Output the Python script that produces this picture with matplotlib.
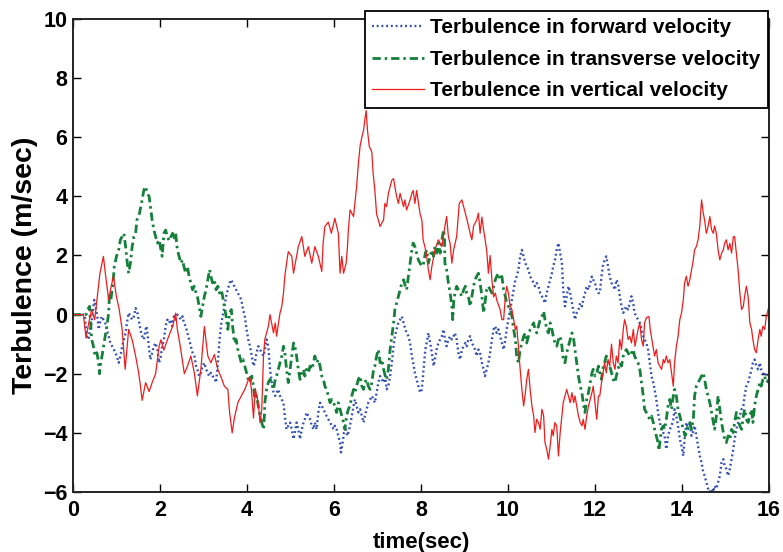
import matplotlib
matplotlib.use("Agg")
import matplotlib.pyplot as plt

# time stamps and turbulence samples for the three velocity components
t_forward = [0, 0.27, 0.28, 0.32, 0.36, 0.39, 0.43, 0.47, 0.49, 0.53, 0.56, 0.59, 0.62, 0.66, 0.70, 0.74, 0.78, 0.82, 0.86, 0.90, 0.94, 0.97, 1.01, 1.05, 1.09, 1.13, 1.17, 1.21, 1.24, 1.28, 1.32, 1.36, 1.40, 1.44, 1.48, 1.51, 1.55, 1.59, 1.63, 1.67, 1.69, 1.72, 1.75, 1.78, 1.82, 1.86, 1.90, 1.94, 1.98, 2.02, 2.05, 2.09, 2.13, 2.17, 2.21, 2.25, 2.28, 2.32, 2.36, 2.40, 2.44, 2.48, 2.52, 2.55, 2.59, 2.63, 2.67, 2.71, 2.75, 2.79, 2.83, 2.86, 2.90, 2.94, 2.98, 3.02, 3.06, 3.10, 3.13, 3.17, 3.21, 3.25, 3.29, 3.33, 3.37, 3.41, 3.44, 3.48, 3.52, 3.56, 3.60, 3.64, 3.67, 3.71, 3.75, 3.79, 3.83, 3.87, 3.91, 3.95, 3.99, 4.03, 4.07, 4.11, 4.15, 4.18, 4.22, 4.26, 4.30, 4.34, 4.38, 4.41, 4.45, 4.49, 4.53, 4.57, 4.61, 4.65, 4.68, 4.72, 4.76, 4.80, 4.84, 4.87, 4.91, 4.95, 4.99, 5.03, 5.07, 5.10, 5.14, 5.18, 5.22, 5.26, 5.30, 5.33, 5.37, 5.41, 5.45, 5.49, 5.53, 5.56, 5.60, 5.64, 5.68, 5.72, 5.76, 5.79, 5.83, 5.87, 5.91, 5.95, 5.99, 6.02, 6.06, 6.10, 6.14, 6.16, 6.20, 6.23, 6.27, 6.31, 6.35, 6.38, 6.41, 6.45, 6.48, 6.52, 6.56, 6.60, 6.64, 6.68, 6.71, 6.75, 6.79, 6.83, 6.87, 6.91, 6.94, 6.98, 7.02, 7.06, 7.10, 7.14, 7.18, 7.21, 7.25, 7.29, 7.33, 7.37, 7.40, 7.44, 7.48, 7.52, 7.56, 7.60, 7.64, 7.67, 7.71, 7.75, 7.79, 7.82, 7.86, 7.90, 7.94, 7.98, 8.02, 8.06, 8.10, 8.13, 8.17, 8.21, 8.25, 8.29, 8.32, 8.36, 8.40, 8.44, 8.48, 8.52, 8.55, 8.59, 8.63, 8.67, 8.71, 8.75, 8.78, 8.82, 8.86, 8.90, 8.94, 8.98, 9.02, 9.05, 9.09, 9.13, 9.17, 9.21, 9.24, 9.28, 9.32, 9.36, 9.40, 9.44, 9.47, 9.51, 9.55, 9.59, 9.63, 9.67, 9.71, 9.74, 9.78, 9.82, 9.86, 9.90, 9.94, 9.97, 10.01, 10.05, 10.09, 10.13, 10.17, 10.20, 10.24, 10.28, 10.32, 10.36, 10.40, 10.43, 10.47, 10.51, 10.55, 10.59, 10.62, 10.66, 10.70, 10.74, 10.78, 10.82, 10.85, 10.89, 10.93, 10.97, 11.01, 11.04, 11.08, 11.12, 11.16, 11.20, 11.24, 11.27, 11.31, 11.35, 11.39, 11.43, 11.47, 11.51, 11.54, 11.58, 11.62, 11.66, 11.70, 11.73, 11.77, 11.81, 11.85, 11.89, 11.93, 11.96, 12.00, 12.04, 12.08, 12.11, 12.15, 12.18, 12.22, 12.26, 12.30, 12.34, 12.38, 12.42, 12.46, 12.49, 12.53, 12.57, 12.61, 12.65, 12.68, 12.72, 12.76, 12.80, 12.84, 12.88, 12.91, 12.95, 12.99, 13.03, 13.07, 13.11, 13.14, 13.18, 13.22, 13.26, 13.30, 13.34, 13.37, 13.41, 13.45, 13.49, 13.53, 13.57, 13.60, 13.64, 13.68, 13.72, 13.76, 13.80, 13.83, 13.87, 13.91, 13.95, 13.99, 14.03, 14.06, 14.10, 14.14, 14.18, 14.22, 14.25, 14.29, 14.33, 14.37, 14.41, 14.45, 14.49, 14.52, 14.56, 14.60, 14.64, 14.68, 14.72, 14.75, 14.79, 14.83, 14.87, 14.91, 14.95, 14.98, 15.02, 15.06, 15.10, 15.14, 15.18, 15.21, 15.25, 15.29, 15.33, 15.37, 15.41, 15.44, 15.48, 15.52, 15.56, 15.60, 15.63, 15.67, 15.71, 15.75, 15.79, 15.82, 15.86, 15.90, 15.94, 16.0]
u_forward = [0, 0, -0.17, -0.73, -0.84, -0.5, -0.28, 0.28, 0.5, 0.17, -0.06, -0.5, -0.28, -0.06, -0.17, -0.28, -0.5, -0.73, -0.96, -1.07, -1.18, -1.29, -1.4, -1.63, -1.4, -1.07, -0.84, -0.62, -0.28, 0.06, -0.06, -0.17, -0.06, 0.22, 0.06, -0.17, -0.5, -0.73, -0.84, -0.5, -0.39, -0.73, -1.18, -1.52, -1.29, -1.07, -0.96, -1.18, -1.63, -1.4, -1.07, -0.84, -0.39, -0.17, -0.28, -0.17, -0.39, -0.06, -0.17, 0.0, -0.06, -0.17, -0.06, -0.28, -0.39, -0.62, -0.84, -1.07, -1.29, -1.4, -1.74, -1.85, -2.08, -1.97, -1.74, -1.63, -1.85, -1.97, -2.08, -1.97, -2.08, -2.13, -2.3, -1.63, -0.84, -0.28, -0.06, 0.28, 0.62, 0.84, 1.07, 1.18, 1.07, 0.96, 0.84, 0.73, 0.62, 0.5, 0.17, -0.06, -0.5, -0.84, -1.07, -1.4, -1.74, -1.63, -1.29, -1.07, -1.18, -1.29, -1.4, -1.18, -0.84, -1.07, -1.85, -2.3, -2.64, -2.75, -2.64, -2.53, -2.75, -2.87, -2.98, -3.43, -3.88, -3.76, -3.65, -3.88, -4.21, -3.99, -3.65, -3.88, -4.21, -3.88, -3.65, -3.54, -3.31, -3.43, -3.54, -3.76, -3.88, -3.65, -3.88, -3.31, -2.98, -3.09, -3.2, -3.31, -3.43, -3.54, -3.65, -3.76, -3.88, -3.76, -3.88, -4.1, -4.33, -4.66, -4.33, -3.99, -3.88, -4.1, -3.88, -3.65, -3.43, -3.09, -2.87, -3.09, -3.31, -3.2, -3.43, -3.65, -3.43, -3.2, -2.98, -2.87, -2.75, -2.87, -2.98, -2.64, -2.3, -2.08, -2.19, -2.3, -2.08, -2.53, -2.42, -2.08, -1.63, -1.07, -0.73, -0.5, -0.28, -0.17, -0.06, -0.28, -0.5, -0.62, -0.73, -0.96, -1.4, -1.63, -1.97, -2.19, -2.42, -2.64, -2.53, -1.85, -1.18, -0.96, -0.62, -0.96, -1.29, -1.74, -1.52, -1.18, -0.96, -0.84, -0.73, -0.5, -0.84, -1.07, -0.84, -0.73, -0.84, -0.73, -0.62, -0.84, -1.29, -1.52, -1.18, -1.07, -0.96, -1.07, -0.84, -0.73, -0.96, -1.07, -1.18, -1.4, -1.18, -1.29, -1.63, -1.85, -2.08, -1.85, -1.63, -1.29, -0.84, -0.5, -0.39, -0.62, -0.5, -0.73, -0.96, -1.18, -0.84, -0.5, -0.17, 0.17, 0.5, 0.84, 1.18, 1.29, 1.52, 1.97, 2.19, 1.97, 1.74, 1.63, 1.52, 1.29, 1.18, 1.07, 0.96, 1.07, 0.96, 0.73, 0.62, 0.5, 0.39, 0.73, 0.96, 1.18, 1.4, 1.63, 1.85, 2.19, 2.42, 2.08, 1.74, 0.84, 0.28, 0.62, 0.96, 0.73, 0.39, 0.06, -0.17, 0.06, 0.17, 0.39, 0.28, 0.5, 0.73, 0.96, 0.84, 1.07, 1.29, 1.18, 1.07, 0.84, 0.73, 0.73, 1.29, 1.63, 1.85, 1.97, 1.63, 1.29, 1.07, 0.96, 0.84, 1.18, 1.07, 0.62, 0.28, 0.06, 0.17, 0.28, 0.17, 0.39, 0.62, 0.39, 0.06, -0.06, -0.17, -0.28, -0.5, -0.73, -0.84, -0.96, -1.18, -1.63, -2.08, -2.3, -2.53, -2.87, -3.31, -3.65, -3.88, -4.0, -4.1, -4.55, -4.1, -3.88, -3.76, -3.54, -3.2, -3.43, -3.76, -4.21, -4.44, -4.78, -4.21, -3.65, -3.88, -3.65, -4.1, -3.99, -3.76, -4.1, -4.44, -4.78, -5.0, -5.34, -5.45, -5.67, -5.89, -6.0, -5.89, -6.0, -5.79, -5.89, -5.67, -5.45, -5.0, -4.89, -5.11, -5.22, -5.45, -5.22, -4.89, -4.55, -4.21, -3.88, -3.65, -3.43, -3.2, -3.09, -2.75, -2.42, -2.3, -2.08, -1.85, -1.63, -1.52, -1.74, -1.85, -1.63, -1.85, -1.97, -2.08, -1.97, -2.08]

t_transverse = [0, 0.27, 0.30, 0.34, 0.38, 0.41, 0.43, 0.47, 0.51, 0.55, 0.59, 0.61, 0.64, 0.68, 0.74, 0.78, 0.82, 0.84, 0.87, 0.92, 0.95, 1.00, 1.05, 1.09, 1.13, 1.17, 1.21, 1.24, 1.28, 1.32, 1.36, 1.40, 1.44, 1.47, 1.53, 1.59, 1.63, 1.67, 1.71, 1.75, 1.78, 1.82, 1.86, 1.90, 1.94, 1.98, 2.02, 2.05, 2.09, 2.13, 2.17, 2.21, 2.25, 2.29, 2.32, 2.36, 2.40, 2.44, 2.48, 2.52, 2.55, 2.59, 2.63, 2.67, 2.71, 2.75, 2.79, 2.83, 2.86, 2.90, 2.94, 2.98, 3.02, 3.06, 3.10, 3.14, 3.17, 3.21, 3.25, 3.29, 3.33, 3.37, 3.41, 3.44, 3.48, 3.52, 3.56, 3.60, 3.64, 3.67, 3.71, 3.75, 3.79, 3.83, 3.87, 3.91, 3.95, 3.99, 4.03, 4.07, 4.11, 4.15, 4.18, 4.22, 4.26, 4.30, 4.34, 4.38, 4.40, 4.41, 4.45, 4.49, 4.53, 4.57, 4.61, 4.65, 4.68, 4.72, 4.76, 4.80, 4.84, 4.87, 4.91, 4.95, 4.99, 5.03, 5.07, 5.10, 5.14, 5.18, 5.22, 5.26, 5.30, 5.33, 5.37, 5.41, 5.45, 5.49, 5.53, 5.56, 5.60, 5.64, 5.68, 5.72, 5.76, 5.79, 5.83, 5.87, 5.91, 5.95, 5.99, 6.02, 6.06, 6.10, 6.14, 6.18, 6.22, 6.25, 6.29, 6.33, 6.37, 6.41, 6.45, 6.48, 6.52, 6.56, 6.60, 6.64, 6.68, 6.71, 6.75, 6.79, 6.83, 6.87, 6.91, 6.94, 6.98, 7.02, 7.06, 7.10, 7.14, 7.18, 7.21, 7.25, 7.29, 7.33, 7.37, 7.40, 7.44, 7.48, 7.52, 7.56, 7.60, 7.64, 7.67, 7.71, 7.75, 7.79, 7.82, 7.86, 7.90, 7.94, 7.98, 8.02, 8.06, 8.10, 8.13, 8.17, 8.21, 8.25, 8.29, 8.32, 8.36, 8.40, 8.44, 8.48, 8.52, 8.54, 8.55, 8.59, 8.63, 8.67, 8.71, 8.73, 8.75, 8.78, 8.82, 8.86, 8.90, 8.94, 8.98, 9.02, 9.05, 9.09, 9.13, 9.17, 9.21, 9.24, 9.28, 9.32, 9.36, 9.40, 9.44, 9.47, 9.51, 9.55, 9.59, 9.63, 9.67, 9.71, 9.74, 9.78, 9.82, 9.86, 9.90, 9.94, 9.97, 10.01, 10.05, 10.09, 10.13, 10.17, 10.20, 10.24, 10.28, 10.32, 10.36, 10.40, 10.43, 10.47, 10.51, 10.55, 10.59, 10.62, 10.66, 10.70, 10.74, 10.78, 10.82, 10.85, 10.89, 10.93, 10.97, 11.01, 11.04, 11.08, 11.12, 11.16, 11.20, 11.24, 11.27, 11.31, 11.35, 11.39, 11.43, 11.47, 11.51, 11.54, 11.58, 11.62, 11.66, 11.70, 11.73, 11.77, 11.81, 11.85, 11.89, 11.93, 11.96, 12.00, 12.04, 12.08, 12.11, 12.15, 12.18, 12.22, 12.26, 12.30, 12.34, 12.38, 12.42, 12.46, 12.49, 12.53, 12.57, 12.61, 12.65, 12.68, 12.72, 12.76, 12.80, 12.84, 12.88, 12.91, 12.95, 12.99, 13.03, 13.07, 13.11, 13.14, 13.18, 13.22, 13.26, 13.30, 13.34, 13.37, 13.41, 13.45, 13.47, 13.49, 13.53, 13.57, 13.60, 13.64, 13.68, 13.72, 13.76, 13.80, 13.83, 13.87, 13.91, 13.95, 13.99, 14.03, 14.07, 14.10, 14.14, 14.18, 14.22, 14.26, 14.29, 14.33, 14.37, 14.41, 14.45, 14.49, 14.52, 14.56, 14.60, 14.64, 14.68, 14.72, 14.75, 14.79, 14.83, 14.87, 14.91, 14.95, 14.98, 15.02, 15.06, 15.10, 15.14, 15.18, 15.21, 15.25, 15.29, 15.33, 15.37, 15.41, 15.44, 15.48, 15.52, 15.56, 15.60, 15.63, 15.67, 15.71, 15.75, 15.79, 15.82, 15.86, 15.90, 15.94, 16.0]
u_transverse = [0, 0, 0.0, 0.17, 0.28, -0.4, -0.84, -1.07, -1.4, -1.29, -1.63, -2.0, -1.63, -1.29, -0.73, -0.4, 0.06, 0.73, 0.5, 1.07, 1.63, 1.97, 2.19, 2.53, 2.64, 2.75, 2.3, 1.85, 1.4, 1.74, 2.3, 2.64, 2.75, 3.2, 3.43, 3.88, 4.22, 4.33, 4.1, 4.0, 3.65, 3.2, 2.86, 2.64, 2.42, 2.53, 2.2, 1.97, 2.75, 2.86, 2.64, 2.5, 2.63, 2.75, 2.53, 2.75, 2.19, 1.97, 1.74, 1.85, 1.63, 1.4, 1.63, 1.29, 1.07, 0.84, 0.96, 0.73, 0.62, 0.28, -0.06, 0.28, 0.62, 0.84, 1.18, 1.52, 1.29, 1.07, 1.18, 0.84, 0.96, 0.73, 0.84, 0.62, 0.28, -0.06, -0.5, 0.06, 0.17, -0.39, -0.96, -0.84, -1.18, -1.4, -1.63, -1.52, -1.74, -1.97, -2.19, -2.3, -2.08, -2.42, -2.86, -2.75, -3.09, -3.43, -3.65, -3.88, -3.43, -2.98, -2.53, -2.3, -2.19, -2.3, -2.53, -2.19, -2.08, -1.85, -1.63, -1.4, -1.07, -1.29, -1.85, -2.3, -1.85, -1.4, -0.96, -1.07, -1.4, -1.85, -2.19, -1.97, -1.85, -2.08, -1.85, -1.97, -1.74, -1.85, -1.63, -1.4, -1.63, -1.52, -1.74, -2.08, -2.19, -2.42, -2.53, -2.75, -2.98, -2.87, -2.98, -3.09, -3.31, -2.98, -3.2, -3.43, -3.65, -3.88, -3.43, -3.2, -3.09, -2.75, -2.53, -2.64, -2.42, -2.19, -2.08, -2.42, -2.53, -2.3, -2.19, -2.42, -2.53, -2.3, -1.85, -1.74, -1.4, -1.18, -1.63, -1.52, -1.85, -2.08, -2.19, -1.85, -1.18, -0.73, -0.28, 0.17, 0.39, 0.62, 0.84, 1.07, 1.18, 0.96, 0.84, 1.29, 1.74, 2.19, 2.42, 2.3, 2.08, 1.85, 1.74, 1.63, 1.74, 2.08, 2.19, 1.74, 1.97, 2.19, 1.97, 2.3, 2.08, 2.42, 2.08, 2.53, 2.87, 2.64, 1.74, 1.52, 1.07, 0.73, 0.28, -0.17, 0.39, 0.73, 0.96, 0.84, 0.73, 0.62, 0.84, 0.96, 0.73, 0.62, 0.28, 0.62, 0.96, 1.18, 1.29, 1.4, 1.07, 0.62, 0.06, 0.39, 0.84, 0.96, 0.84, 0.73, 0.96, 1.18, 1.29, 1.4, 1.18, 1.29, 0.84, 0.62, 0.39, 0.28, 0.17, -0.06, -0.5, -0.84, -1.4, -1.63, -1.18, -0.96, -0.73, -0.62, -0.96, -0.73, -0.5, -0.39, -0.28, -0.5, -0.62, -0.39, -0.17, -0.06, 0.11, -0.17, -0.5, -0.62, -0.28, -0.5, -0.73, -0.96, -1.07, -0.84, -0.73, -1.07, -1.52, -1.63, -1.29, -1.07, -0.84, -0.62, -0.84, -1.18, -1.63, -2.08, -2.42, -2.64, -2.98, -3.31, -2.87, -2.64, -2.3, -1.97, -1.85, -2.08, -1.97, -1.74, -1.97, -2.19, -1.85, -1.63, -1.4, -1.63, -1.74, -1.97, -2.19, -2.3, -2.08, -1.85, -1.63, -1.74, -1.4, -1.29, -1.18, -1.29, -1.4, -1.29, -1.18, -1.4, -1.52, -1.63, -1.85, -2.3, -2.75, -3.2, -3.31, -3.43, -3.54, -3.43, -3.65, -3.88, -4.1, -4.33, -4.6, -4.33, -3.88, -3.76, -3.88, -3.54, -3.09, -2.87, -3.2, -2.75, -2.53, -2.75, -3.2, -3.43, -3.65, -3.88, -4.1, -3.99, -3.76, -3.65, -3.88, -3.54, -2.75, -2.42, -2.3, -2.19, -2.08, -1.97, -2.19, -2.53, -2.75, -2.98, -3.31, -3.65, -3.88, -3.43, -2.75, -3.2, -3.65, -3.99, -4.21, -4.33, -4.1, -4.21, -3.88, -3.99, -3.65, -3.31, -3.54, -3.76, -3.88, -3.43, -3.2, -3.54, -3.65, -3.43, -3.2, -3.65, -3.09, -2.75, -2.53, -2.3, -2.42, -2.19, -2.08, -2.3, -2.2]

t_vertical = [0, 0.24, 0.30, 0.36, 0.43, 0.50, 0.56, 0.62, 0.70, 0.76, 0.82, 0.87, 0.93, 1.00, 1.06, 1.13, 1.20, 1.28, 1.36, 1.44, 1.51, 1.55, 1.59, 1.67, 1.75, 1.82, 1.90, 1.98, 2.02, 2.09, 2.17, 2.29, 2.36, 2.40, 2.48, 2.56, 2.63, 2.71, 2.79, 2.86, 2.94, 3.02, 3.10, 3.17, 3.25, 3.33, 3.40, 3.48, 3.56, 3.60, 3.66, 3.71, 3.79, 3.87, 3.95, 4.06, 4.10, 4.15, 4.19, 4.26, 4.30, 4.34, 4.38, 4.41, 4.49, 4.53, 4.61, 4.65, 4.68, 4.76, 4.80, 4.84, 4.87, 4.91, 4.95, 5.03, 5.07, 5.14, 5.18, 5.26, 5.33, 5.41, 5.49, 5.56, 5.64, 5.72, 5.75, 5.79, 5.87, 5.94, 6.02, 6.10, 6.14, 6.18, 6.22, 6.28, 6.31, 6.33, 6.37, 6.45, 6.52, 6.56, 6.60, 6.64, 6.68, 6.71, 6.74, 6.77, 6.81, 6.87, 6.90, 6.94, 6.98, 7.02, 7.06, 7.10, 7.14, 7.17, 7.21, 7.25, 7.33, 7.37, 7.40, 7.44, 7.48, 7.52, 7.60, 7.63, 7.67, 7.75, 7.79, 7.82, 7.86, 7.90, 7.98, 8.02, 8.05, 8.09, 8.13, 8.17, 8.21, 8.25, 8.32, 8.40, 8.48, 8.55, 8.59, 8.63, 8.67, 8.71, 8.75, 8.82, 8.88, 8.94, 8.98, 9.06, 9.13, 9.17, 9.21, 9.28, 9.32, 9.36, 9.40, 9.44, 9.51, 9.55, 9.59, 9.63, 9.67, 9.71, 9.74, 9.82, 9.86, 9.90, 9.94, 9.97, 10.01, 10.05, 10.09, 10.13, 10.17, 10.20, 10.24, 10.28, 10.32, 10.36, 10.40, 10.43, 10.47, 10.51, 10.55, 10.59, 10.62, 10.66, 10.70, 10.74, 10.78, 10.82, 10.85, 10.89, 10.93, 10.97, 11.01, 11.04, 11.08, 11.12, 11.16, 11.20, 11.24, 11.27, 11.31, 11.35, 11.39, 11.43, 11.47, 11.51, 11.54, 11.58, 11.62, 11.66, 11.70, 11.73, 11.77, 11.81, 11.85, 11.89, 11.93, 11.96, 12.00, 12.04, 12.08, 12.11, 12.15, 12.22, 12.26, 12.30, 12.34, 12.38, 12.42, 12.46, 12.49, 12.53, 12.57, 12.61, 12.65, 12.68, 12.72, 12.76, 12.80, 12.84, 12.88, 12.92, 12.95, 12.99, 13.03, 13.07, 13.11, 13.14, 13.18, 13.24, 13.27, 13.32, 13.37, 13.41, 13.45, 13.49, 13.53, 13.57, 13.60, 13.64, 13.68, 13.72, 13.76, 13.80, 13.83, 13.87, 13.91, 13.95, 13.99, 14.03, 14.06, 14.10, 14.14, 14.18, 14.22, 14.26, 14.29, 14.33, 14.37, 14.41, 14.45, 14.49, 14.52, 14.56, 14.60, 14.64, 14.68, 14.72, 14.75, 14.79, 14.83, 14.87, 14.91, 14.95, 14.98, 15.02, 15.06, 15.10, 15.14, 15.18, 15.21, 15.25, 15.29, 15.33, 15.37, 15.41, 15.44, 15.48, 15.52, 15.56, 15.60, 15.63, 15.67, 15.71, 15.75, 15.79, 15.82, 15.86, 15.90, 15.94, 16.0]
u_vertical = [0, 0, -0.79, -0.3, 0.17, -0.17, 0.6, 1.4, 1.97, 1.2, 0.5, 0.9, 1.3, 0.6, 0.2, -0.5, -1.85, -0.5, -0.85, -1.4, -1.97, -2.4, -2.9, -2.3, -2.6, -2.3, -2.0, -1.07, -0.85, -1.2, -0.85, -0.4, 0.05, -0.5, -1.2, -2.0, -1.75, -1.4, -1.97, -2.75, -1.85, -0.4, -1.4, -1.63, -1.35, -1.85, -2.1, -2.42, -2.53, -3.3, -4.0, -3.5, -2.98, -2.75, -2.53, -2.1, -2.5, -3.5, -2.5, -2.98, -3.65, -3.2, -1.4, -0.84, -0.4, 0.0, -0.62, -0.28, -0.73, 0.06, 0.28, 0.73, 1.3, 1.74, 2.13, 1.97, 1.4, 1.97, 2.3, 2.64, 1.97, 2.3, 1.74, 2.3, 1.97, 1.46, 2.4, 2.98, 3.13, 2.75, 3.26, 2.75, 1.4, 1.97, 1.4, 1.74, 2.3, 2.86, 3.54, 3.32, 4.33, 5.1, 5.7, 6.0, 6.24, 6.6, 6.9, 6.24, 5.7, 5.5, 4.78, 4.2, 3.4, 3.2, 2.98, 3.1, 3.2, 3.76, 3.65, 4.1, 4.55, 4.6, 4.33, 4.0, 3.76, 4.1, 3.65, 3.88, 3.54, 3.88, 4.1, 4.2, 3.76, 4.2, 3.4, 3.2, 2.52, 2.3, 2.0, 1.52, 1.18, 1.63, 2.19, 2.53, 2.3, 2.98, 3.32, 2.64, 2.4, 1.74, 2.19, 2.64, 3.76, 3.88, 3.65, 3.2, 2.75, 2.53, 3.0, 3.2, 3.43, 2.75, 3.3, 2.87, 2.19, 1.4, 2.0, 1.18, 0.6, 0.73, 0.5, 0.17, -0.17, -0.17, 0.62, 0.96, 0.73, 0.28, 0.17, -0.17, -0.5, -0.39, -1.07, -1.85, -2.53, -3.09, -2.64, -2.2, -1.85, -2.53, -3.09, -3.43, -3.99, -3.54, -3.65, -3.88, -3.2, -3.43, -4.33, -4.55, -4.89, -4.44, -3.88, -4.1, -3.65, -3.76, -4.78, -3.99, -3.43, -2.98, -2.75, -2.53, -2.75, -2.98, -2.64, -2.98, -2.75, -3.09, -3.43, -3.65, -3.76, -3.54, -3.88, -3.43, -3.09, -2.87, -2.64, -2.42, -2.98, -3.54, -2.75, -2.75, -2.3, -1.63, -1.97, -1.52, -1.74, -1.0, -1.63, -1.85, -1.4, -1.63, -0.84, -1.18, -0.5, -0.17, -0.39, -0.84, -0.73, -0.96, -0.5, -1.07, -0.84, -0.5, -0.28, -0.84, -1.07, -0.28, -0.11, -0.06, -0.5, -0.96, -1.4, -1.18, -1.63, -1.74, -1.85, -1.52, -1.63, -1.4, -1.63, -1.52, -1.97, -2.42, -1.63, -1.07, -0.73, -0.17, 0.06, 0.5, 1.07, 1.3, 0.96, 1.18, 1.52, 1.85, 2.19, 2.3, 2.53, 3.0, 3.88, 3.43, 3.2, 2.75, 2.98, 3.32, 2.87, 2.75, 3.0, 2.75, 2.19, 1.85, 2.08, 2.19, 2.41, 2.53, 2.19, 2.41, 2.08, 2.63, 2.64, 2.08, 1.52, 0.73, 0.17, 0.28, 0.62, 0.96, 0.62, -0.28, -0.5, -0.84, -1.18, -1.29, -0.84, -0.5, -0.73, -0.39, -0.5, -0.06, 0.28]

series_labels = ["Terbulence in forward velocity",
                 "Terbulence in transverse velocity",
                 "Terbulence in vertical velocity"]
x_ticks = [0, 2, 4, 6, 8, 10, 12, 14, 16]
y_ticks = [-6, -4, -2, 0, 2, 4, 6, 8, 10]

plt.rcParams["font.family"] = ["Liberation Sans", "DejaVu Sans"]
plt.rcParams["font.weight"] = "bold"

fig = plt.figure(figsize=(7.83, 5.52), dpi=100)
ax = fig.add_axes([0.0932, 0.1087, 0.8889, 0.8569])

ax.plot(t_forward, u_forward, linestyle=(0, (0.8, 1.2)), color="#3350b0",
        linewidth=1.7, label=series_labels[0])
ax.plot(t_transverse, u_transverse, linestyle=(0, (3.0, 1.4, 0.9, 1.4)),
        color="#14803a", linewidth=2.0, label=series_labels[1])
ax.plot(t_vertical, u_vertical, linestyle="-", color="#f01c1c", linewidth=0.9,
        label=series_labels[2])

ax.set_xlim(0, 16)
ax.set_ylim(-6, 10)
ax.set_xticks(x_ticks)
ax.set_yticks(y_ticks)
ax.set_yticklabels([str(v).replace("-", "\u2212") for v in y_ticks])
ax.tick_params(direction="in", top=True, right=True, length=6, width=1.0,
               labelsize=15.5)
ax.tick_params(axis="x", pad=6)
ax.tick_params(axis="y", pad=4)
for side in ax.spines.values():
    side.set_linewidth(1.4)
    side.set_color("#222222")

ax.set_xlabel("time(sec)", fontsize=16, fontweight="bold")
ax.xaxis.set_label_coords(0.5, -0.085)
ax.set_ylabel("Terbulence (m/sec)", fontsize=20.5, fontweight="bold")
ax.yaxis.set_label_coords(-0.050, 0.48)

leg = ax.legend(loc="upper right", bbox_to_anchor=(768 / 783, 1 - 11 / 552),
                bbox_transform=fig.transFigure, fontsize=15, frameon=True,
                fancybox=False, framealpha=1, edgecolor="black",
                handlelength=2.5, borderpad=0.35, labelspacing=0.6,
                handletextpad=0.3, borderaxespad=0)
leg.get_frame().set_linewidth(1.3)
for txt in leg.get_texts():
    txt.set_fontweight("bold")

fig.savefig("out.png", dpi=100)
